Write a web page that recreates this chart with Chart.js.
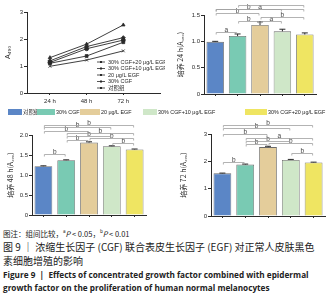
<!DOCTYPE html>
<html>
<head>
<meta charset="utf-8">
<script src="https://cdn.jsdelivr.net/npm/chart.js@4.4.1/dist/chart.umd.min.js"></script>
<style>
  body { margin: 0; width: 330px; height: 300px; background: #fff; position: relative; overflow: hidden;
         font-family: "Liberation Sans", "Noto Sans CJK SC", sans-serif; color: #222; }
  .c { position: absolute; }
  .lg { position: absolute; top: 108px; height: 8px; line-height: 8px; font-size: 5.4px; white-space: nowrap;
        font-family: "Liberation Sans", "Noto Sans CJK SC", sans-serif; }
  .lg i { display: inline-block; height: 6px; vertical-align: -1px; margin-right: 1px; }
  .cap { position: absolute; left: 3px; white-space: nowrap; color: #222; }
  .zh { font-family: "Noto Sans CJK SC", sans-serif; }
  .en { font-family: "Open Sans", sans-serif; font-weight: bold; font-size: 8.2px; }
  sup { font-size: 0.6em; }
</style>
</head>
<body>
<div class="c" style="left:0;top:0;width:165px;height:110px"><canvas id="line"></canvas></div>
<div class="c" style="left:165px;top:0;width:165px;height:100px"><canvas id="b24"></canvas></div>
<div class="c" style="left:0;top:120px;width:165px;height:105px"><canvas id="b48"></canvas></div>
<div class="c" style="left:165px;top:120px;width:165px;height:105px"><canvas id="b72"></canvas></div>
<div id="legend"></div>

<div class="cap zh" style="top:226px;font-size:7.5px;line-height:10px">图注：组间比较，<sup>a</sup><i>P</i> &lt; 0.05，<sup>b</sup><i>P</i> &lt; 0.01</div>
<div class="cap zh" style="top:240px;font-size:10px;line-height:13px">图 9 ｜ 浓缩生长因子 (CGF) 联合表皮生长因子 (EGF) 对正常人皮肤黑色</div>
<div class="cap zh" style="top:254px;font-size:10px;line-height:13px">素细胞增殖的影响</div>
<div class="cap en" style="top:269px;line-height:11px">Figure 9 &nbsp;|&nbsp; Effects of concentrated growth factor combined with epidermal</div>
<div class="cap en" style="top:282px;line-height:11px">growth factor on the proliferation of human normal melanocytes</div>

<script>
// groups (legend order) and fill colours
const groups = ['对照组', '30% CGF', '20 μg/L EGF', '30% CGF+10 μg/L EGF', '30% CGF+20 μg/L EGF'];
const fills = ['#5b86c6', '#79cab3', '#e4cd9b', '#cfe7c8', '#efe562'];
const hours = [24, 48, 72];

// A490 means and error per group
const od24 = [0.99, 1.10, 1.31, 1.19, 1.13];
const sd24 = [0.01, 0.04, 0.06, 0.04, 0.03];
const od48 = [1.22, 1.37, 1.81, 1.72, 1.64];
const sd48 = [0.01, 0.01, 0.02, 0.01, 0.01];
const od72 = [1.56, 1.88, 2.52, 2.05, 1.96];
const sd72 = [0.01, 0.02, 0.03, 0.02, 0.01];

// significance brackets: [from, to, height, letter]
const sig24 = [[0,1,1.18,'a'],[1,2,1.39,'b'],[2,3,1.39,'a'],[2,4,1.47,'b'],[0,2,1.53,'b'],[0,3,1.61,'b'],[0,4,1.61,'a'],[1,4,1.69,'']];
const sig48 = [[0,1,1.52,'b'],[3,4,1.80,'b'],[1,2,1.87,'b'],[2,4,1.92,'b'],[1,3,1.98,'b'],[1,4,2.04,'b'],[0,2,2.11,'b'],[0,3,2.19,'b'],[0,4,2.26,'b']];
const sig72 = [[0,1,1.98,'b'],[3,4,2.31,'b'],[1,2,2.62,'b'],[2,4,2.68,'b'],[1,3,2.76,'b'],[1,4,2.86,'a'],[0,2,3.01,'b'],[0,3,3.22,'b'],[0,4,3.32,'b']];

const INK = '#2a2a2a';
const tickFont = { family: 'Liberation Sans', size: 6 };
Chart.defaults.animation = false;
Chart.defaults.color = INK;

// html legend row under the first chart
const legendPos = [8, 37, 80, 143, 245];
const boxW = [14, 18, 20, 14, 22];
const lg = document.getElementById('legend');
groups.forEach((g, i) => {
  const s = document.createElement('span');
  s.className = 'lg';
  s.style.left = legendPos[i] + 'px';
  s.innerHTML = '<i style="width:' + boxW[i] + 'px;background:' + fills[i] + '"></i>' + g;
  lg.appendChild(s);
});

// error bars + significance brackets
const marks = {
  id: 'marks',
  afterDatasetsDraw(chart, args, opts) {
    if (!opts.err) return;
    const ctx = chart.ctx, x = chart.scales.x, y = chart.scales.y;
    const vals = chart.data.datasets[0].data;
    ctx.save();
    ctx.strokeStyle = INK;
    ctx.lineWidth = 1;
    vals.forEach((v, i) => {
      const px = x.getPixelForValue(i);
      const top = y.getPixelForValue(v + opts.err[i]);
      ctx.beginPath();
      ctx.moveTo(px, y.getPixelForValue(v));
      ctx.lineTo(px, top);
      ctx.moveTo(px - 3, top);
      ctx.lineTo(px + 3, top);
      ctx.stroke();
    });
    ctx.strokeStyle = '#a0a0a0';
    ctx.lineWidth = 0.8;
    ctx.fillStyle = '#444';
    ctx.font = '6.5px "Liberation Sans"';
    ctx.textAlign = 'center';
    ctx.textBaseline = 'bottom';
    opts.sig.forEach(([a, b, h, t]) => {
      const x1 = x.getPixelForValue(a) + 1, x2 = x.getPixelForValue(b) - 1;
      const py = Math.round(y.getPixelForValue(h)) + 0.5;
      ctx.beginPath();
      ctx.moveTo(x1, py + 2);
      ctx.lineTo(x1, py);
      ctx.lineTo(x2, py);
      ctx.lineTo(x2, py + 2);
      ctx.stroke();
      if (t) ctx.fillText(t, (x1 + x2) / 2, py + 1);
    });
    ctx.restore();
  }
};

function barChart(id, vals, errs, sig, yMax, step, axisW, axisH, pad, titlePad, hourLabel) {
  new Chart(document.getElementById(id), {
    type: 'bar',
    data: {
      labels: groups,
      datasets: [{ data: vals, backgroundColor: fills, borderColor: '#6b6b6b', borderWidth: 0.8,
                   barPercentage: 0.78, categoryPercentage: 1 }]
    },
    options: {
      responsive: true,
      maintainAspectRatio: false,
      layout: { padding: pad },
      plugins: { legend: { display: false }, tooltip: { enabled: false }, marks: { err: errs, sig: sig } },
      scales: {
        x: {
          ticks: { display: false },
          grid: { display: true, drawOnChartArea: false, offset: false, tickLength: 2, color: INK },
          border: { color: INK, width: 1 },
          afterFit: s => { s.height = axisH; }
        },
        y: {
          min: 0, max: yMax,
          ticks: { stepSize: step, font: tickFont, padding: 1,
                   callback: v => v === 0 ? '0' : (step < 1 ? v.toFixed(1) : String(v)) },
          grid: { drawOnChartArea: false, tickLength: 3, color: INK },
          border: { color: INK, width: 1 },
          title: { display: true, text: '培养 ' + hourLabel + ' h(A₄₉₀)', padding: { top: titlePad, bottom: 0 },
                   font: { family: 'Noto Sans CJK SC', size: 7 } },
          afterFit: s => { s.width = axisW; }
        }
      }
    },
    plugins: [marks]
  });
}

// legend drawn inside the line chart, bottom right
const innerLegend = {
  id: 'innerLegend',
  afterDraw(chart) {
    const ctx = chart.ctx, a = chart.chartArea;
    const ds = chart.data.datasets;
    ctx.save();
    ctx.font = '5.5px "Liberation Sans", "Noto Sans CJK SC"';
    ctx.textBaseline = 'middle';
    ctx.fillStyle = INK;
    ctx.strokeStyle = INK;
    ctx.lineWidth = 0.8;
    for (let k = 0; k < ds.length; k++) {
      const d = ds[ds.length - 1 - k];
      const yy = a.bottom - 31 + k * 6.5;
      const x0 = a.left + 70;
      ctx.beginPath();
      ctx.moveTo(x0, yy);
      ctx.lineTo(x0 + 8, yy);
      ctx.stroke();
      ctx.fillRect(x0 + 3, yy - 1, 2, 2);
      ctx.fillText(d.label, x0 + 11, yy);
    }
    ctx.restore();
  }
};

const styles = ['crossRot', 'rect', 'triangle', 'rectRot', 'circle'];
const series = [od24, od48, od72];
new Chart(document.getElementById('line'), {
  type: 'line',
  data: {
    datasets: groups.map((g, i) => ({
      label: g,
      data: hours.map((h, k) => ({ x: h, y: series[k][i] })),
      borderColor: INK, backgroundColor: INK, borderWidth: 0.9,
      pointStyle: styles[i], pointRadius: 2, pointBorderWidth: 0.8
    }))
  },
  options: {
    responsive: true,
    maintainAspectRatio: false,
    layout: { padding: { top: 12, right: 5, left: 0, bottom: 0 } },
    plugins: { legend: { display: false }, tooltip: { enabled: false } },
    scales: {
      x: {
        type: 'linear', min: 9, max: 96,
        afterBuildTicks: s => { s.ticks = hours.map(h => ({ value: h })); },
        ticks: { font: tickFont, padding: 3, callback: v => v + ' h' },
        grid: { drawOnChartArea: false, tickLength: 2, color: INK },
        border: { color: INK, width: 1 },
        afterFit: s => { s.height = 17; }
      },
      y: {
        min: 0, max: 3,
        ticks: { stepSize: 1, font: tickFont, padding: 1 },
        grid: { drawOnChartArea: false, tickLength: 3, color: INK },
        border: { color: INK, width: 1 },
        title: { display: true, text: 'A₄₉₀', padding: { top: 4, bottom: 0 }, font: { family: 'Liberation Sans', size: 7 } },
        afterFit: s => { s.width = 27; }
      }
    }
  },
  plugins: [innerLegend]
});

barChart('b24', od24, sd24, sig24, 1.5, 0.5, 39, 6, { top: 15, right: 14, left: 0, bottom: 0 }, 11, '24');
barChart('b48', od48, sd48, sig48, 2.0, 0.5, 32, 10, { top: 15, right: 19, left: 0, bottom: 0 }, 6, '48');
barChart('b72', od72, sd72, sig72, 3, 1, 46, 9, { top: 14, right: 5, left: 0, bottom: 0 }, 14, '72');
</script>
</body>
</html>
